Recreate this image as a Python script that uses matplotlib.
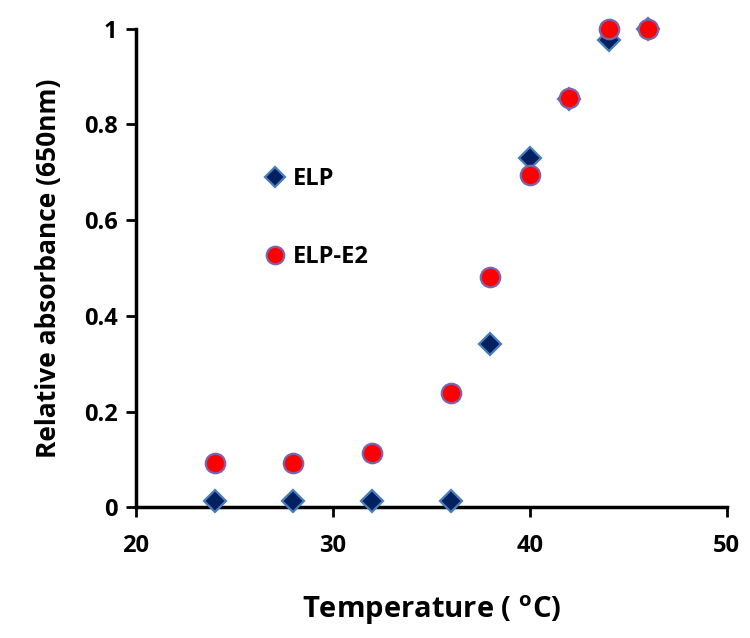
import matplotlib
matplotlib.use('Agg')
import matplotlib.pyplot as plt

plt.rcParams['font.family'] = ['Open Sans', 'DejaVu Sans']
plt.rcParams['font.weight'] = 'bold'
plt.rcParams['mathtext.fontset'] = 'custom'
plt.rcParams['mathtext.rm'] = 'Open Sans:bold'

temp = [24, 28, 32, 36, 38, 40, 42, 44, 46]
elp = [0.012, 0.012, 0.012, 0.012, 0.341, 0.730, 0.853, 0.977, 1.0]
elp_e2 = [0.093, 0.093, 0.114, 0.238, 0.481, 0.695, 0.855, 1.0, 1.0]

xticks = [20, 30, 40, 50]
yticks = [0, 0.2, 0.4, 0.6, 0.8, 1.0]
ytick_labels = ['0', '0.2', '0.4', '0.6', '0.8', '1']

fig = plt.figure(figsize=(7.5, 6.38), dpi=100)
ax = fig.add_axes([0.181, 0.205, 0.788, 0.75])

ax.plot(temp, elp, linestyle='none', marker='D', markersize=11,
        markerfacecolor='#002060', markeredgecolor='#4a7ebb', markeredgewidth=1.6,
        label='ELP', clip_on=False, zorder=3)
ax.plot(temp, elp_e2, linestyle='none', marker='o', markersize=14,
        markerfacecolor='#ff0000', markeredgecolor='#7e63a8', markeredgewidth=1.6,
        label='ELP-E2', clip_on=False, zorder=4)

ax.set_xlim(20, 50)
ax.set_ylim(0, 1)
ax.set_xticks(xticks)
ax.set_yticks(yticks)
ax.set_yticklabels(ytick_labels)

for s in ['top', 'right']:
    ax.spines[s].set_visible(False)
for s in ['left', 'bottom']:
    ax.spines[s].set_linewidth(2.5)
ax.tick_params(direction='out', width=2, length=7, labelsize=17)
ax.tick_params(axis='x', pad=12)
ax.tick_params(axis='y', pad=6)
for lab in ax.get_xticklabels() + ax.get_yticklabels():
    lab.set_fontweight('bold')

ax.set_xlabel('Temperature ( $\\mathregular{^{o}}$C)', fontsize=21, fontweight='bold', labelpad=26)
ax.set_ylabel('Relative absorbance (650nm)', fontsize=19, fontweight='bold', labelpad=16)

leg = ax.legend(loc='upper left', bbox_to_anchor=(0.17, 0.755), frameon=False,
                prop={'size': 17, 'weight': 'bold'}, labelspacing=2.3,
                handletextpad=0.0, handlelength=1.5, markerscale=0.9)

fig.savefig('out.png', dpi=100)
